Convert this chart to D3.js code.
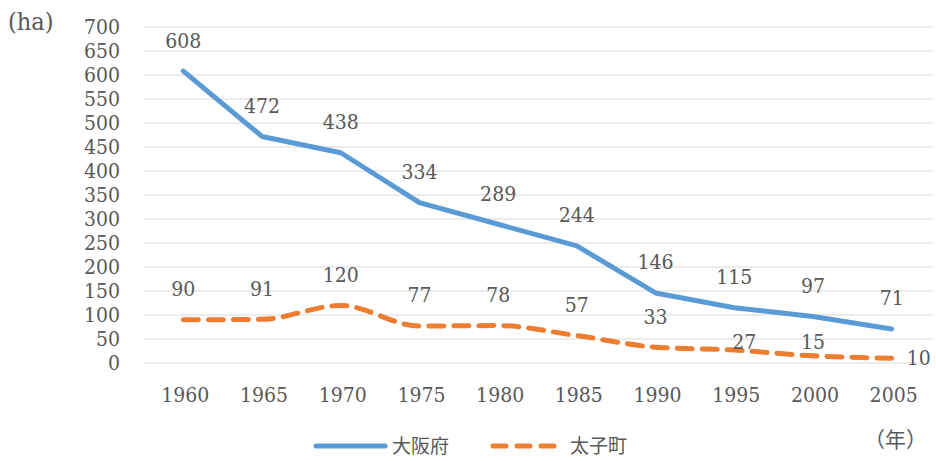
<!DOCTYPE html>
<html>
<head>
<meta charset="utf-8">
<script src="https://cdn.jsdelivr.net/npm/d3@7.9.0/dist/d3.min.js"></script>
<style>
  body { margin: 0; background: #fff; }
  svg text { fill: #595959; }
  .num { font-family: 'DejaVu Serif Condensed', 'DejaVu Serif', serif; font-stretch: condensed; font-size: 21px; }
  .cjk { font-family: 'Noto Sans CJK JP', sans-serif; font-size: 19px; }
</style>
</head>
<body>
<svg id="chart" width="936" height="461"></svg>
<script>
const years = ['1960', '1965', '1970', '1975', '1980', '1985', '1990', '1995', '2000', '2005'];
const osaka = [608, 472, 438, 334, 289, 244, 146, 115, 97, 71];
const taishi = [90, 91, 120, 77, 78, 57, 33, 27, 15, 10];
const yTicks = d3.range(0, 701, 50);
const seriesNames = ['大阪府', '太子町'];

// label offsets (Excel had a few moved by hand)
const taishiLabelDy = [-31, -31, -31, -31, -31, -31, -31, -8, -14, -1];
const taishiLabelDx = [0, 0, 0, 0, 0, 0, 0, 10, 0, 27];

const svg = d3.select('#chart');
const margin = { left: 144, right: 5, top: 27, bottom: 98 };
const W = 936, H = 461;

const x = d3.scaleBand().domain(years).range([margin.left, W - margin.right]);
const y = d3.scaleLinear().domain([0, 700]).range([H - margin.bottom, margin.top]);
const cx = (d) => x(d) + x.bandwidth() / 2;

// gridlines
svg.append('g')
    .selectAll('line')
    .data(yTicks)
    .join('line')
    .attr('x1', margin.left)
    .attr('x2', W - margin.right)
    .attr('y1', (d) => y(d))
    .attr('y2', (d) => y(d))
    .attr('stroke', '#d9d9d9')
    .attr('stroke-width', 1);

// y tick labels
svg.append('g')
    .selectAll('text')
    .data(yTicks)
    .join('text')
    .attr('class', 'num')
    .attr('x', 120)
    .attr('y', (d) => y(d))
    .attr('dy', '0.35em')
    .attr('text-anchor', 'end')
    .text((d) => d);

// x tick labels
svg.append('g')
    .selectAll('text')
    .data(years)
    .join('text')
    .attr('class', 'num')
    .attr('x', (d) => cx(d) + 2)
    .attr('y', 395)
    .attr('dy', '0.35em')
    .attr('text-anchor', 'middle')
    .text((d) => d);

// lines
const blueLine = d3.line().x((d, i) => cx(years[i])).y((d) => y(d));
const orangeLine = d3.line().x((d, i) => cx(years[i])).y((d) => y(d)).curve(d3.curveMonotoneX);

svg.append('path')
    .attr('d', blueLine(osaka))
    .attr('fill', 'none')
    .attr('stroke', '#5b9bd5')
    .attr('stroke-width', 5)
    .attr('stroke-linejoin', 'round')
    .attr('stroke-linecap', 'round');

svg.append('path')
    .attr('d', orangeLine(taishi))
    .attr('fill', 'none')
    .attr('stroke', '#ed7d31')
    .attr('stroke-width', 5)
    .attr('stroke-dasharray', '15 10')
    .attr('stroke-linecap', 'round');

// data labels
svg.append('g')
    .selectAll('text')
    .data(osaka)
    .join('text')
    .attr('class', 'num')
    .attr('x', (d, i) => cx(years[i]))
    .attr('y', (d) => y(d) - 31)
    .attr('dy', '0.35em')
    .attr('text-anchor', 'middle')
    .text((d) => d);

svg.append('g')
    .selectAll('text')
    .data(taishi)
    .join('text')
    .attr('class', 'num')
    .attr('x', (d, i) => cx(years[i]) + taishiLabelDx[i])
    .attr('y', (d, i) => y(d) + taishiLabelDy[i])
    .attr('dy', '0.35em')
    .attr('text-anchor', 'middle')
    .text((d) => d);

// axis unit labels
svg.append('text').attr('x', 8).attr('y', 21).attr('dy', '0.35em')
    .style('font-family', "'DejaVu Serif Condensed', 'DejaVu Serif', serif")
    .style('font-size', '25px').text('(ha)');
svg.append('text').attr('class', 'cjk').attr('x', 927).attr('y', 440).attr('dy', '0.35em')
    .style('font-size', '21px').attr('text-anchor', 'end').text('（年）');

// legend
const legend = svg.append('g');
legend.append('line')
    .attr('x1', 316).attr('x2', 385).attr('y1', 446).attr('y2', 446)
    .attr('stroke', '#5b9bd5').attr('stroke-width', 5).attr('stroke-linecap', 'round');
legend.append('text').attr('class', 'cjk').attr('x', 392).attr('y', 446).attr('dy', '0.35em').text(seriesNames[0]);
legend.append('line')
    .attr('x1', 493).attr('x2', 555).attr('y1', 446).attr('y2', 446)
    .attr('stroke', '#ed7d31').attr('stroke-width', 5).attr('stroke-linecap', 'round')
    .attr('stroke-dasharray', '13 11');
legend.append('text').attr('class', 'cjk').attr('x', 570).attr('y', 446).attr('dy', '0.35em').text(seriesNames[1]);
</script>
</body>
</html>
